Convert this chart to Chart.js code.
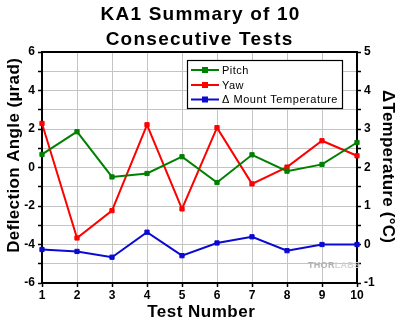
<!DOCTYPE html>
<html>
<head>
<meta charset="utf-8">
<script src="https://cdn.jsdelivr.net/npm/chart.js@4/dist/chart.umd.min.js"></script>
<style>
  html, body { margin: 0; padding: 0; background: #fff; }
  #wrap { width: 400px; height: 323px; }
</style>
</head>
<body>
<div id="wrap"><canvas id="c" width="400" height="323"></canvas></div>
<script>
// Test runs and measured values
const testNumbers = ['1', '2', '3', '4', '5', '6', '7', '8', '9', '10'];
const pitchUrad = [0.68, 1.86, -0.49, -0.31, 0.56, -0.78, 0.66, -0.19, 0.16, 1.30];
const yawUrad = [2.29, -3.66, -2.24, 2.22, -2.15, 2.07, -0.85, 0.02, 1.39, 0.61];
const mountTempDelta = [-0.13, -0.18, -0.33, 0.32, -0.29, 0.04, 0.20, -0.16, 0.00, 0.00];

const seriesNames = ['Pitch', 'Yaw', '\u0394 Mount Temperature'];
const titleLines = ['KA1 Summary of 10', 'Consecutive Tests'];
const leftTitle = 'Deflection Angle (\u00b5rad)';
const rightTitle = '\u0394Temperature (\u00b0C)';
const bottomTitle = 'Test Number';

const FONT = 'Arial, "Liberation Sans", sans-serif';
const GREEN = '#008000', RED = '#ff0000', BLUE = '#0a0ad2';

// draw text stretched/squeezed with letter spacing to a given width
function fitText(ctx, text, cx, cy, width) {
  ctx.letterSpacing = '0px';
  const natural = ctx.measureText(text).width;
  const ls = (width - natural) / text.length;
  ctx.letterSpacing = ls + 'px';
  const w = ctx.measureText(text).width;
  ctx.fillText(text, cx - w / 2 + ls / 2, cy);
  ctx.letterSpacing = '0px';
}

const decorations = {
  id: 'decorations',
  afterDraw(chart) {
    const ctx = chart.ctx;
    const a = chart.chartArea;
    ctx.save();
    // frame top edge
    ctx.strokeStyle = '#000';
    ctx.lineWidth = 2;
    ctx.beginPath();
    ctx.moveTo(a.left - 1, a.top);
    ctx.lineTo(a.right + 1, a.top);
    ctx.stroke();

    ctx.fillStyle = '#000';
    ctx.textBaseline = 'alphabetic';
    ctx.textAlign = 'left';
    // title
    ctx.font = 'bold 19px ' + FONT;
    fitText(ctx, titleLines[0], 200, 20, 200);
    fitText(ctx, titleLines[1], 199, 45, 188);

    // x axis title
    ctx.font = 'bold 17px ' + FONT;
    fitText(ctx, bottomTitle, 201, 317, 108);

    // left axis title
    ctx.save();
    ctx.translate(18.5, 155.5);
    ctx.rotate(-Math.PI / 2);
    ctx.font = 'bold 17px ' + FONT;
    fitText(ctx, leftTitle, 0, 0, 195);
    ctx.restore();

    // right axis title
    ctx.save();
    ctx.translate(383, 166.5);
    ctx.rotate(Math.PI / 2);
    ctx.font = 'bold 17px ' + FONT;
    fitText(ctx, rightTitle, 0, 0, 153);
    ctx.restore();

    // legend
    const lx = 187, ly = 60, lw = 155, lh = 48;
    ctx.fillStyle = '#fff';
    ctx.fillRect(lx, ly, lw, lh);
    ctx.strokeStyle = '#000';
    ctx.lineWidth = 1.2;
    ctx.strokeRect(lx + 0.5, ly + 0.5, lw, lh);
    const colors = [GREEN, RED, BLUE];
    const rows = [70, 85, 99.5];
    const textW = [27, 22, 116];
    chart.data.datasets.forEach((ds, i) => {
      const y = rows[i];
      ctx.strokeStyle = colors[i];
      ctx.lineWidth = 2;
      ctx.beginPath();
      ctx.moveTo(191, y);
      ctx.lineTo(219, y);
      ctx.stroke();
      ctx.fillStyle = colors[i];
      ctx.fillRect(202, y - 3, 6, 6);
      ctx.fillStyle = '#000';
      ctx.font = '11px ' + FONT;
      ctx.textBaseline = 'middle';
      ctx.letterSpacing = '0px';
      const nat = ctx.measureText(ds.label).width;
      const ls = Math.max(0, (textW[i] - nat) / ds.label.length);
      ctx.letterSpacing = ls + 'px';
      ctx.fillText(ds.label, 222, y + 0.5);
      ctx.letterSpacing = '0px';
    });

    // watermark
    ctx.textBaseline = 'middle';
    ctx.font = 'bold 9px ' + FONT;
    ctx.letterSpacing = '0.3px';
    ctx.fillStyle = '#b0b0b0';
    ctx.fillText('THOR', 308, 265.5);
    const tw = ctx.measureText('THOR').width;
    ctx.fillStyle = '#d4d4d4';
    ctx.fillText('LABS', 308 + tw, 265.5);
    ctx.letterSpacing = '0px';
    ctx.restore();
  }
};

const tickFont = { family: FONT, size: 12, weight: 'bold' };

new Chart(document.getElementById('c'), {
  type: 'line',
  data: {
    labels: testNumbers,
    datasets: [
      { label: seriesNames[0], data: pitchUrad, yAxisID: 'y', borderColor: GREEN, backgroundColor: GREEN },
      { label: seriesNames[1], data: yawUrad, yAxisID: 'y', borderColor: RED, backgroundColor: RED },
      { label: seriesNames[2], data: mountTempDelta, yAxisID: 'y1', borderColor: BLUE, backgroundColor: BLUE }
    ].map(d => Object.assign(d, {
      borderWidth: 2,
      pointStyle: 'rect',
      pointRadius: 3,
      pointBorderWidth: 1,
      pointBorderColor: d.borderColor,
      pointBackgroundColor: d.borderColor,
      tension: 0,
      fill: false
    }))
  },
  options: {
    responsive: false,
    animation: false,
    events: [],
    layout: { padding: { top: 52, left: 0, right: 0, bottom: 0 } },
    plugins: { legend: { display: false }, title: { display: false }, tooltip: { enabled: false } },
    scales: {
      x: {
        type: 'category',
        offset: false,
        grid: { color: '#c4c4c4', lineWidth: 1, tickColor: '#000', tickLength: 4, tickWidth: 1.5 },
        border: { color: '#000', width: 2 },
        ticks: { color: '#000', font: tickFont, padding: 1, maxRotation: 0, autoSkip: false },
        afterFit(s) { s.height = 40; }
      },
      y: {
        position: 'left',
        min: -6, max: 6,
        grid: { color: '#c4c4c4', lineWidth: 1, tickColor: '#000', tickLength: 4, tickWidth: 1.5 },
        border: { color: '#000', width: 2 },
        ticks: {
          stepSize: 1, color: '#000', font: tickFont, padding: 3,
          callback: v => (v % 2 === 0 ? String(v) : '')
        },
        afterFit(s) { s.width = 42; }
      },
      y1: {
        position: 'right',
        min: -1, max: 5,
        grid: { drawOnChartArea: false, tickColor: '#000', tickLength: 4, tickWidth: 1.5 },
        border: { color: '#000', width: 2 },
        ticks: {
          stepSize: 0.5, color: '#000', font: tickFont, padding: 3,
          callback: v => (Number.isInteger(v) ? String(v) : '')
        },
        afterFit(s) { s.width = 43; }
      }
    }
  },
  plugins: [decorations]
});
</script>
</body>
</html>
